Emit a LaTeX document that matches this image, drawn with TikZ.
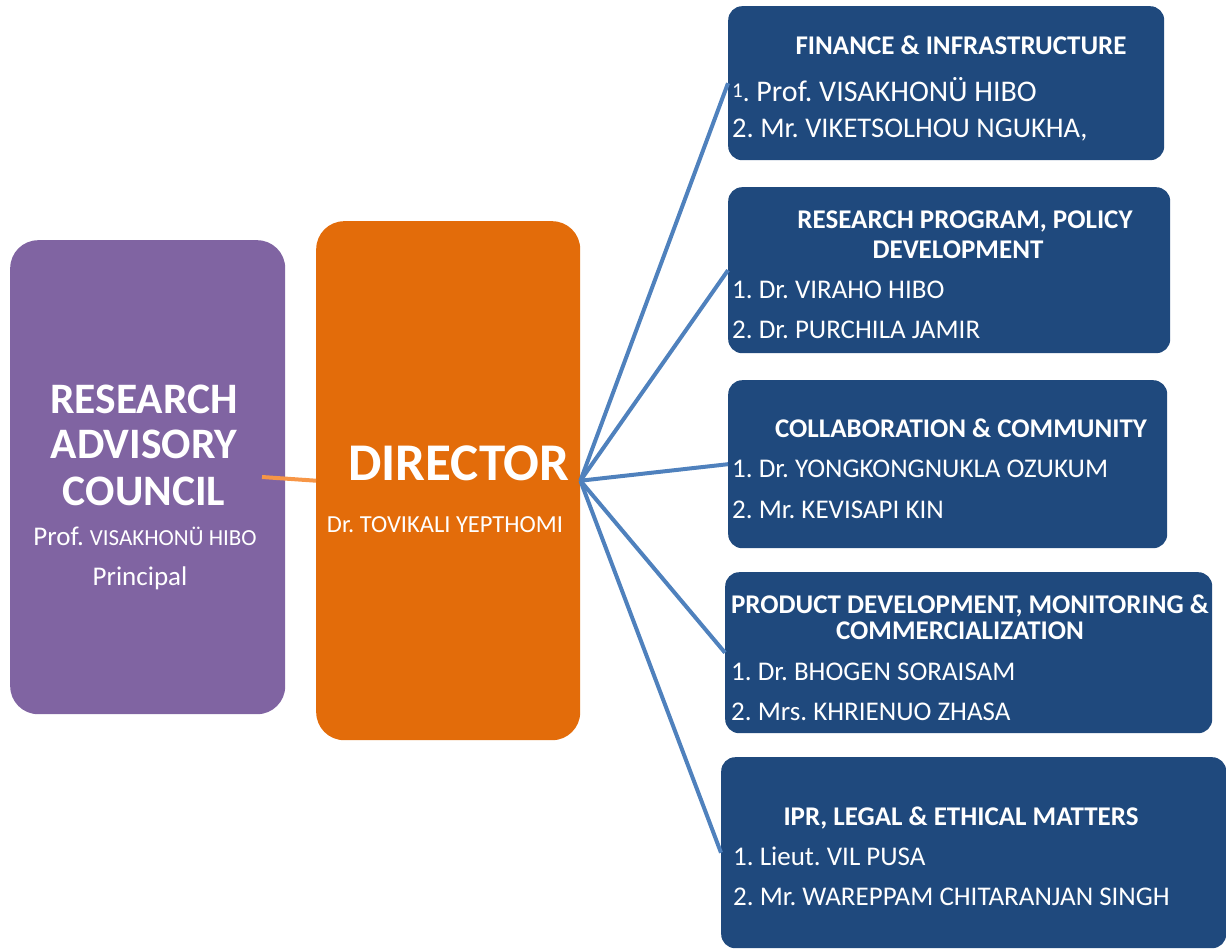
\documentclass[tikz,border=0pt]{standalone}
\usepackage{fontspec}
\setmainfont{Carlito}
\usetikzlibrary{positioning}
\definecolor{racpurple}{HTML}{8064A2}
\definecolor{dirorange}{HTML}{E36C0A}
\definecolor{linkorange}{HTML}{F79646}
\definecolor{unitblue}{HTML}{1F497D}
\definecolor{linkblue}{HTML}{4F81BD}
\frenchspacing

\begin{document}
\begin{tikzpicture}[x=1pt,y=-1pt]
\tikzstyle{bigbox}=[rounded corners=28pt, inner sep=0pt, anchor=north west]
\tikzstyle{unit}=[fill=unitblue, rounded corners=14pt, inner sep=0pt,
anchor=north west]
\tikzstyle{ttl}=[text=white, inner sep=0pt, anchor=base,
font=\fontsize{27}{30}\selectfont\bfseries]
\tikzstyle{member}=[text=white, inner sep=0pt, anchor=base west,
font=\fontsize{27}{30}\selectfont]
\tikzstyle{head}=[text=white, inner sep=0pt, anchor=base]
\tikzstyle{link}=[draw=linkblue, line width=4pt]

\useasboundingbox (0,0) rectangle (1226,950);

% council and director
\node[bigbox, fill=racpurple, minimum width=275pt, minimum height=474pt] at (10,240) (rac) {};
\node[bigbox, fill=dirorange, minimum width=264pt, minimum height=519pt] at (316,221) (dir) {};

% units
\node[unit, minimum width=436pt, minimum height=154pt] at (728,6) (fin) {};
\node[unit, minimum width=442pt, minimum height=166pt] at (728,187) (rpp) {};
\node[unit, minimum width=439pt, minimum height=168pt] at (728,380) (col) {};
\node[unit, minimum width=487pt, minimum height=161pt] at (725,572) (pdm) {};
\node[unit, minimum width=505pt, minimum height=191pt] at (721,757) (ipr) {};

\path[link] (dir.east) edge (fin.west);
\path[link] (dir.east) edge (rpp.west);
\path[link] (dir.east) edge (col.west);
\path[link] (dir.east) edge (pdm.west);
\path[link] (dir.east) edge (ipr.west);

\coordinate (rac-in) at (262,477);
\draw[draw=linkorange, line width=4pt] (rac-in) -- (dir.west);

% council text
\node[head, font=\fontsize{43.5}{50}\selectfont\bfseries] at (144,413) (rac-1) {RESEARCH};
\node[head, font=\fontsize{43.5}{50}\selectfont\bfseries] at (144,458) (rac-2) {ADVISORY};
\node[head, font=\fontsize{43.5}{50}\selectfont\bfseries] at (144,505) (rac-3) {COUNCIL};
\node[head, font=\fontsize{27}{30}\selectfont] at (145,545) (rac-p) {Prof. {\fontsize{23}{25}\selectfont VISAKHONÜ HIBO}};
\node[head, font=\fontsize{27}{30}\selectfont] at (140,585) (rac-r) {Principal};

% director text
\node[head, font=\fontsize{53}{60}\selectfont\bfseries] at (459,480) (dir-t) {DIRECTOR};
\node[head, font=\fontsize{24.5}{26}\selectfont] at (445,532) (dir-n) {Dr. TOVIKALI YEPTHOMI};

% unit text
\node[ttl] at (961,55) (fin-t) {FINANCE \& INFRASTRUCTURE};
\node[member] at (732,101) (fin-1) {\raisebox{4pt}{\fontsize{21}{24}\selectfont 1}.{\fontsize{30}{30}\selectfont\ Prof. VISAKHONÜ HIBO}};
\node[member, font=\fontsize{28.5}{30}\selectfont] at (732,137) (fin-2) {2. Mr. VIKETSOLHOU NGUKHA,};

\node[ttl] at (965,228) (rpp-t1) {RESEARCH PROGRAM, POLICY};
\node[ttl] at (958,258) (rpp-t2) {DEVELOPMENT};
\node[member] at (732,298) (rpp-1) {1. Dr. VIRAHO HIBO};
\node[member] at (732,338) (rpp-2) {2. Dr. PURCHILA JAMIR};

\node[ttl] at (961,437) (col-t) {COLLABORATION \& COMMUNITY};
\node[member] at (732,477) (col-1) {1. Dr. YONGKONGNUKLA OZUKUM};
\node[member] at (732,518) (col-2) {2. Mr. KEVISAPI KIN};

\node[ttl] at (970,613) (pdm-t1) {PRODUCT DEVELOPMENT, MONITORING \&};
\node[ttl] at (960,639) (pdm-t2) {COMMERCIALIZATION};
\node[member] at (731,680) (pdm-1) {1. Dr. BHOGEN SORAISAM};
\node[member] at (731,720) (pdm-2) {2. Mrs. KHRIENUO ZHASA};

\node[ttl] at (961,825) (ipr-t) {IPR, LEGAL \& ETHICAL MATTERS};
\node[member] at (733,865) (ipr-1) {1. Lieut. VIL PUSA};
\node[member] at (733,905) (ipr-2) {2. Mr. WAREPPAM CHITARANJAN SINGH};

\end{tikzpicture}
\end{document}
